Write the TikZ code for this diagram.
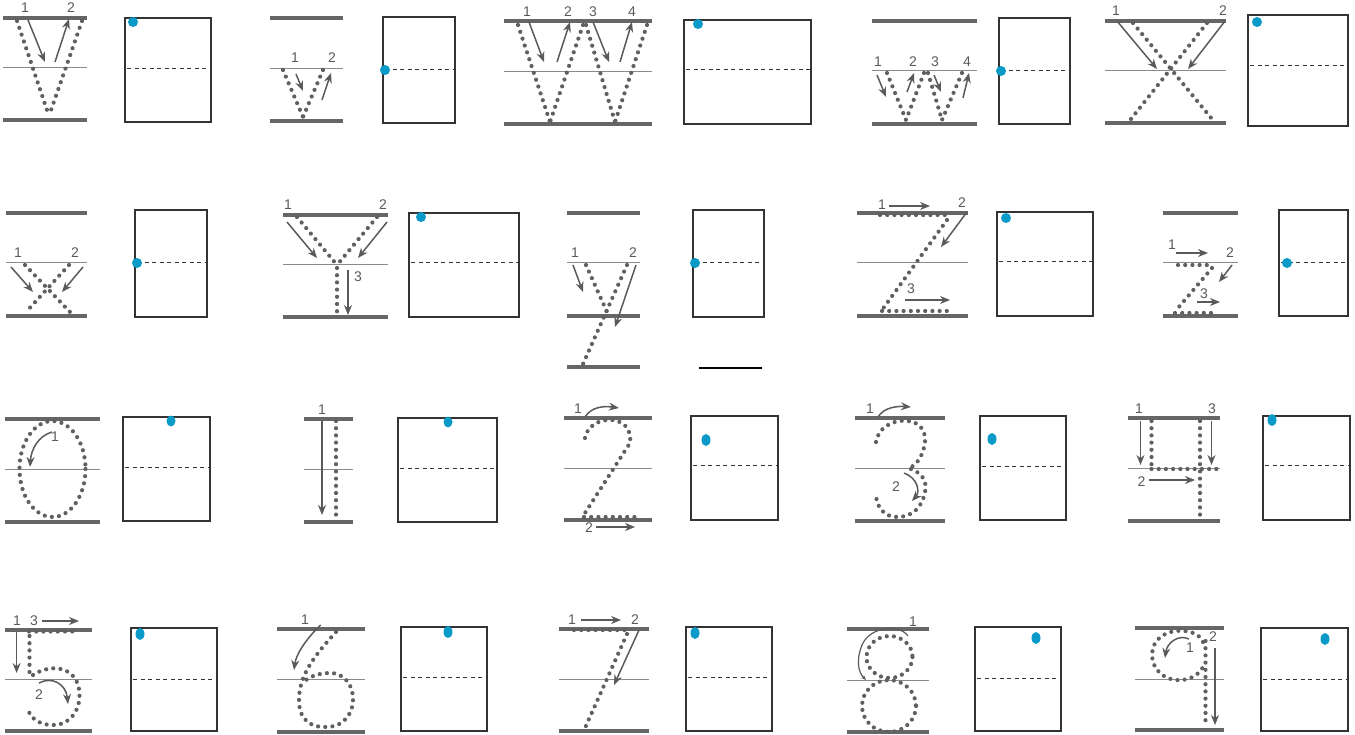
\documentclass[tikz,border=0pt]{standalone}
\usepackage{fontspec}
\newfontfamily\labfont{Liberation Sans}
\usetikzlibrary{arrows.meta}
\definecolor{guidecol}{HTML}{666666}
\definecolor{midcol}{HTML}{8A8A8A}
\definecolor{dotcol}{HTML}{606060}
\definecolor{arrcol}{HTML}{5A5A5A}
\definecolor{framecol}{HTML}{333333}
\definecolor{startcol}{HTML}{0A9AC8}
\tikzset{
  guide/.style={draw=guidecol, line width=3.4pt},
  midline/.style={draw=midcol, line width=1pt},
  trace/.style={draw=dotcol, line width=4.2pt, line cap=round, dash pattern=on 0pt off 7.2pt},
  stroke/.style={draw=arrcol, line width=1.5pt, -{Stealth[length=10pt,width=8pt]}},
  num/.style={text=arrcol, font=\labfont\fontsize{14}{14}\selectfont, inner sep=0pt},
  frame/.style={draw=framecol, line width=1.3pt},
  half/.style={draw=framecol, line width=1pt, dash pattern=on 4pt off 3.5pt},
  startdot/.style={fill=startcol},
}
\newcommand\guides[5]{\draw[guide] (#1,#3) -- (#2,#3); \draw[midline] (#1,#4) -- (#2,#4); \draw[guide] (#1,#5) -- (#2,#5);}
\newcommand\pad[5]{\draw[frame] (#1,#2) rectangle (#3,#4); \draw[half] (#1+2,#5) -- (#3-1,#5);}
\begin{document}
\begin{tikzpicture}[x=1pt,y=-1pt]
\useasboundingbox (0,0) rectangle (1355,735);
% ---------- V ----------
\guides{3}{87}{18}{68}{120}
\draw[trace] (17,21) -- (49,116); \draw[trace] (82,21) -- (49,116);
\draw[stroke] (28,20) -- (45,62); \draw[stroke] (55,62) -- (69,19);
\node[num] (va) at (25,8) {1}; \node[num] (vb) at (71,8) {2};
\pad{125}{18}{211}{122}{69}
\fill[startdot] (133,22) circle (5);
% ---------- v ----------
\guides{270}{343}{18}{69}{121}
\draw[trace] (283,70) -- (303,117); \draw[trace] (323,70) -- (303,117);
\draw[stroke] (296,74) -- (303,91); \draw[stroke] (322,100) -- (331,73);
\node[num] (sva) at (295,58) {1}; \node[num] (svb) at (332,58) {2};
\pad{383}{17}{455}{123}{70}
\fill[startdot] (385,70) circle (5);
% ---------- W ----------
\guides{504}{652}{21}{72}{124}
\draw[trace] (518,25) -- (550,122); \draw[trace] (583,25) -- (550,122);
\draw[trace] (586,25) -- (615,122); \draw[trace] (647,25) -- (615,122);
\draw[stroke] (529,22) -- (544,62); \draw[stroke] (557,62) -- (570,22);
\draw[stroke] (593,22) -- (609,62); \draw[stroke] (620,62) -- (632,22);
\node[num] (wa) at (527,12) {1}; \node[num] (wb) at (568,12) {2};
\node[num] (wc) at (593,12) {3}; \node[num] (wd) at (632,12) {4};
\pad{684}{20}{811}{124}{70}
\fill[startdot] (698,24) circle (5);
% ---------- w ----------
\guides{872}{977}{21}{71}{124}
\draw[trace] (887,73) -- (906,120); \draw[trace] (924,73) -- (906,120);
\draw[trace] (928,73) -- (942,120); \draw[trace] (962,73) -- (942,120);
\draw[stroke] (877,75) -- (886,97); \draw[stroke] (907,92) -- (914,73);
\draw[stroke] (934,75) -- (941,92); \draw[stroke] (963,98) -- (969,73);
\node[num] (swa) at (878,62) {1}; \node[num] (swb) at (913,62) {2};
\node[num] (swc) at (935,62) {3}; \node[num] (swd) at (967,62) {4};
\pad{999}{18}{1070}{124}{71}
\fill[startdot] (1001,71) circle (5);
% ---------- X ----------
\guides{1105}{1226}{21}{71}{123}
\draw[trace] (1133,23) -- (1212,119); \draw[trace] (1207,23) -- (1131,119);
\draw[stroke] (1117,21) -- (1157,69); \draw[stroke] (1225,21) -- (1188,69);
\node[num] (xa) at (1116,11) {1}; \node[num] (xb) at (1223,11) {2};
\pad{1248}{15}{1348}{126}{66}
\fill[startdot] (1257,22) circle (5);
% ---------- x ----------
\guides{6}{87}{213}{263}{316}
\draw[trace] (25,265) -- (70,312); \draw[trace] (69,265) -- (26,312);
\draw[stroke] (11,267) -- (33,292); \draw[stroke] (83,267) -- (62,292);
\node[num] (sxa) at (18,253) {1}; \node[num] (sxb) at (75,253) {2};
\pad{135}{210}{207}{317}{263}
\fill[startdot] (137,263) circle (5);
% ---------- Y ----------
\guides{283}{388}{215}{265}{317}
\draw[trace] (297,217) -- (337,265); \draw[trace] (377,217) -- (337,265);
\draw[trace] (337,268) -- (337,313);
\draw[stroke] (287,222) -- (317,258); \draw[stroke] (387,222) -- (358,258);
\draw[stroke] (348,270) -- (348,315);
\node[num] (ya) at (288,205) {1}; \node[num] (yb) at (383,205) {2};
\node[num] (yc) at (358,277) {3};
\pad{409}{213}{519}{317}{263}
\fill[startdot] (421,217) circle (5);
% ---------- y ----------
\draw[guide] (567,213) -- (640,213);
\draw[midline] (567,263) -- (640,263);
\draw[guide] (567,316) -- (640,316);
\draw[guide] (567,367) -- (640,367);
\draw[trace] (586,265) -- (607,312); \draw[trace] (627,265) -- (583,364);
\draw[stroke] (573,265) -- (583,292); \draw[stroke] (636,265) -- (615,327);
\node[num] (sya) at (575,253) {1}; \node[num] (syb) at (633,253) {2};
\pad{693}{210}{764}{317}{263}
\fill[startdot] (695,263) circle (5);
\draw[draw=black, line width=2.5pt] (699,368) -- (762,368);
% ---------- Z ----------
\guides{857}{968}{213}{263}{316}
\draw[trace] (880,215) -- (950,215); \draw[trace] (947,220) -- (882,310);
\draw[trace] (882,311) -- (952,311);
\draw[stroke] (889,206) -- (930,206); \draw[stroke] (967,212) -- (941,247);
\draw[stroke] (905,300) -- (950,300);
\node[num] (za) at (882,205) {1}; \node[num] (zb) at (962,203) {2};
\node[num] (zc) at (911,289) {3};
\pad{997}{212}{1093}{316}{262}
\fill[startdot] (1006,218) circle (5);
% ---------- z ----------
\guides{1163}{1238}{213}{263}{316}
\draw[trace] (1178,265) -- (1213,265); \draw[trace] (1212,268) -- (1178,308);
\draw[trace] (1175,313) -- (1218,313);
\draw[stroke] (1176,253) -- (1208,253); \draw[stroke] (1232,265) -- (1219,282);
\draw[stroke] (1197,302) -- (1220,302);
\node[num] (sza) at (1172,245) {1}; \node[num] (szb) at (1230,253) {2};
\node[num] (szc) at (1204,294) {3};
\pad{1279}{210}{1348}{316}{263}
\fill[startdot] (1287,263) circle (5);
% ---------- 0 ----------
\guides{5}{100}{419}{469}{522}
\draw[trace] (52.5,469) ellipse (33 and 48);
\draw[stroke] (52,432) .. controls (38,436) and (31,450) .. (30,467);
\node[num] (za0) at (55,437) {1};
\pad{123}{417}{210}{521}{467}
\fill[startdot] (171,421) ellipse (4.5 and 5.5);
% ---------- 1 ----------
\guides{304}{353}{419}{469}{522}
\draw[trace] (336,421) -- (336,517);
\draw[stroke] (322,421) -- (322,515);
\node[num] (oa) at (322,410) {1};
\pad{398}{418}{497}{522}{468}
\fill[startdot] (448,422) ellipse (4.5 and 5.5);
% ---------- 2 ----------
\guides{564}{652}{418}{468}{520}
\draw[trace] (585,438) .. controls (589,414) and (634,412) .. (630,443) -- (585,513);
\draw[trace] (584,517) -- (637,517);
\draw[stroke] (585,417) .. controls (592,406) and (605,406) .. (619,408);
\draw[stroke] (596,527) -- (635,527);
\node[num] (ta) at (578,409) {1}; \node[num] (tb) at (589,528) {2};
\pad{691}{416}{778}{520}{465}
\fill[startdot] (706,440) ellipse (4.5 and 6);
% ---------- 3 ----------
\guides{855}{945}{418}{468}{521}
\draw[trace] (876,442) .. controls (880,415) and (928,412) .. (925,442) .. controls (923,458) and (915,466) .. (909,468);
\draw[trace] (911,469) .. controls (925,474) and (927,485) .. (925,492) .. controls (922,508) and (912,517) .. (897,517) .. controls (884,517) and (877,507) .. (876,496);
\draw[stroke] (878,417) .. controls (884,407) and (898,406) .. (911,407);
\draw[stroke] (904,473) .. controls (918,478) and (920,492) .. (912,501);
\node[num] (ha) at (870,409) {1}; \node[num] (hb) at (896,487) {2};
\pad{980}{416}{1066}{520}{466}
\fill[startdot] (992,439) ellipse (4.5 and 6);
% ---------- 4 ----------
\guides{1128}{1220}{418}{468}{521}
\draw[trace] (1151.5,421) -- (1151.5,468); \draw[trace] (1200,421) -- (1200,518);
\draw[trace] (1151.5,469) -- (1219,469);
\draw[stroke] (1140.5,421) -- (1140.5,465); \draw[stroke] (1211.5,421) -- (1211.5,465);
\draw[stroke] (1149,480) -- (1195,480);
\node[num] (fa) at (1139,409) {1}; \node[num] (fc) at (1212,409) {3};
\node[num] (fb) at (1141.5,482) {2};
\pad{1263}{416}{1350}{520}{465}
\fill[startdot] (1272,420) ellipse (4.5 and 6);
% ---------- 5 ----------
\guides{5}{92}{630}{679}{731}
\draw[trace] (29,631.5) -- (78,631.5); \draw[trace] (29.5,636) -- (29.5,679);
\draw[trace] (33,675) .. controls (50,664) and (72,666) .. (78,685) .. controls (84,705) and (72,726) .. (52,725) .. controls (40,725) and (31,718) .. (29,712);
\draw[stroke] (16.6,632) -- (16.6,673);
\draw[stroke] (42,621) -- (79,621);
\draw[stroke] (39,683) .. controls (52,676) and (66,684) .. (68,704);
\node[num] (pa) at (17,621) {1}; \node[num] (pc) at (34,621) {3};
\node[num] (pb) at (39,695) {2};
\pad{131}{628}{217}{731}{679}
\fill[startdot] (140,634) ellipse (4.5 and 6);
% ---------- 6 ----------
\guides{277}{365}{629}{679}{732}
\draw[trace] (336,632) .. controls (315,655) and (299,675) .. (299,700) .. controls (299,722) and (313,728) .. (328,727) .. controls (345,726) and (354,712) .. (353,697) .. controls (352,682) and (342,673) .. (330,673) .. controls (318,673) and (309,677) .. (305,681);
\draw[stroke] (320.6,625) .. controls (305,640) and (296,655) .. (294,670);
\node[num] (xa6) at (305,620) {1};
\pad{401}{627}{487}{731}{677}
\fill[startdot] (448,632) ellipse (4.5 and 6);
% ---------- 7 ----------
\guides{559}{649}{629}{679}{731}
\draw[trace] (574,630) -- (627,630); \draw[trace] (627,634) -- (585,728);
\draw[stroke] (581,620) -- (621,620);
\draw[stroke] (639,630) -- (614,685);
\node[num] (sa) at (572,620) {1}; \node[num] (sb) at (635,620) {2};
\pad{686}{627}{772}{731}{677}
\fill[startdot] (695,633) ellipse (4.5 and 6);
% ---------- 8 ----------
\guides{847}{929}{629}{680}{732}
\draw[trace] (889.5,657) ellipse (23 and 21);
\draw[trace] (889,706) ellipse (27 and 26);
\draw[draw=arrcol, line width=1.2pt, -{Stealth[length=5pt,width=4pt]}] (908,636) .. controls (900,624) and (870,626) .. (862,645) .. controls (856,660) and (858,672) .. (866,680);
\node[num] (ea) at (913,622) {1};
\pad{975}{627}{1061}{731}{678}
\fill[startdot] (1036,638) ellipse (4.5 and 6);
% ---------- 9 ----------
\guides{1135}{1224}{628}{679}{730}
\draw[trace] (1203,642) .. controls (1198,627) and (1160,625) .. (1153,648) .. controls (1148,668) and (1165,682) .. (1182,680) .. controls (1195,679) and (1203,670) .. (1205,662);
\draw[trace] (1205.5,641) -- (1205.5,726);
\draw[stroke] (1189,639) .. controls (1178,634) and (1167,643) .. (1165,658);
\draw[stroke] (1215,648) -- (1215,725);
\node[num] (na) at (1190,648) {1}; \node[num] (nb) at (1213,637) {2};
\pad{1261}{628}{1348}{731}{679}
\fill[startdot] (1325,639) ellipse (4.5 and 6);
\end{tikzpicture}
\end{document}
